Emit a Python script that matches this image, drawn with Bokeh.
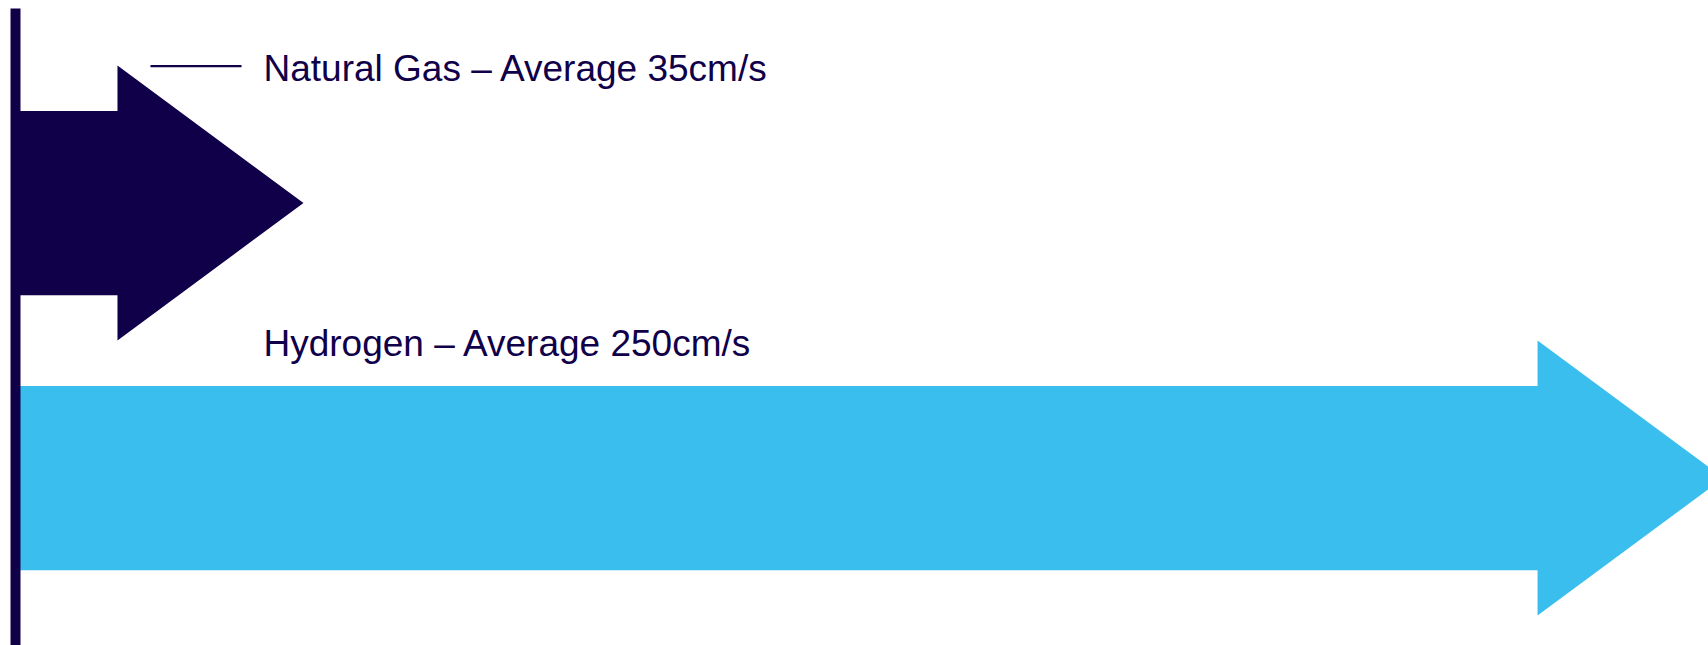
from bokeh.plotting import figure
from bokeh.models import Range1d, ColumnDataSource
from bokeh.embed import file_html
from bokeh.resources import INLINE

# ---- data ----
gases = ["Natural Gas", "Hydrogen"]
avg_speed_cm_s = [35, 250]
rows = [1, 0]
labels = [f"{g} \u2013 Average {v}cm/s" for g, v in zip(gases, avg_speed_cm_s)]

# ---- styling / layout ----
NAVY = "#10004A"
CYAN = "#3ABEEE"
colors = [NAVY, CYAN]

W, H = 1708, 645
PPU = 6.605                  # px per cm/s
ZERO_PX = 71.8               # canvas px of 0 cm/s
ROW_PX = 275.0               # px per row
x_start = -ZERO_PX / PPU
x_end = x_start + W / PPU
y_end = 477.5 / ROW_PX
y_start = y_end - H / ROW_PX


def px_to_x(px):
    return x_start + px / PPU


base_x = px_to_x(15)         # centre of the baseline bar
head_len = 186 / PPU
shaft_half = 0.335
head_half = 0.5

p = figure(width=W, height=H, output_backend="svg", toolbar_location=None,
           x_range=Range1d(x_start, x_end), y_range=Range1d(y_start, y_end),
           min_border=0)
p.axis.visible = False
p.grid.visible = False
p.outline_line_color = None
p.background_fill_color = "white"
p.border_fill_color = "white"

xs, ys = [], []
for v, r in zip(avg_speed_cm_s, rows):
    hb = v - head_len
    xs.append([base_x, hb, hb, v, hb, hb, base_x])
    ys.append([r + shaft_half, r + shaft_half, r + head_half, r,
               r - head_half, r - shaft_half, r - shaft_half])
src = ColumnDataSource(dict(xs=xs, ys=ys, color=colors))
p.patches("xs", "ys", source=src, fill_color="color", line_color=None)

# leader line for the natural gas label
p.segment(x0=[px_to_x(150)], y0=[rows[0] + 0.498], x1=[px_to_x(241)],
          y1=[rows[0] + 0.498], line_color=NAVY, line_width=2.2)

lab_src = ColumnDataSource(dict(x=[px_to_x(263)] * 2,
                                y=[r + 0.49 for r in rows], text=labels))
p.text("x", "y", text="text", source=lab_src, text_color=NAVY,
       text_font_size="37px", text_font={"value": "Liberation Sans"},
       text_baseline="alphabetic", text_align="left")

# baseline bar
p.segment(x0=[base_x], y0=[y_end - 8 / ROW_PX], x1=[base_x], y1=[y_start],
          line_color=NAVY, line_width=10, line_cap="butt")

open("out.html", "w").write(file_html(p, INLINE))
